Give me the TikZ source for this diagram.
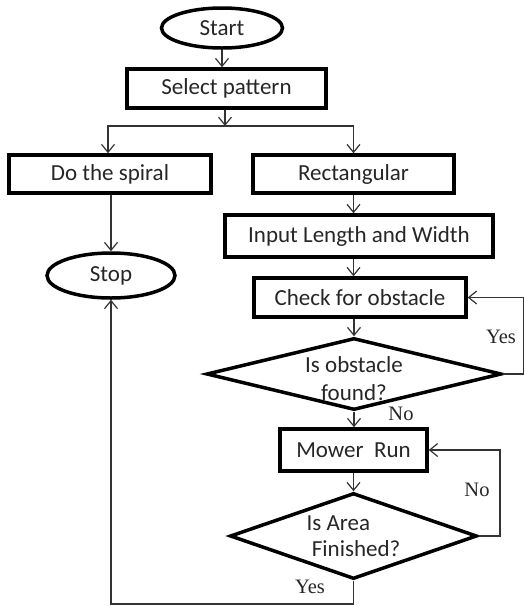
\documentclass[tikz,border=0pt]{standalone}
\usepackage{fontspec}
\setmainfont{Carlito}
\newfontfamily\lblfont{Liberation Serif}
\usetikzlibrary{shapes.geometric,arrows.meta}
\begin{document}
\begin{tikzpicture}[x=1pt,y=-1pt,
  boxtext/.style={font=\fontsize{23}{26}\selectfont, text=black!85},
  procbox/.style={draw, line width=3.5pt, rectangle, inner sep=0pt, boxtext},
  termbox/.style={draw, line width=3.5pt, ellipse, inner sep=0pt, boxtext},
  decbox/.style={draw, line width=3.5pt, diamond, inner sep=0pt, boxtext},
  conn/.style={line width=1.2pt, draw=black!80},
  arr/.style={conn, -{Straight Barb[length=8pt,width=13pt,line width=1.2pt]}},
  lbl/.style={font=\lblfont\fontsize{20.5}{24}\selectfont, text=black!85}
]
\useasboundingbox (0,0) rectangle (524,606);

\node[termbox, minimum width=121pt, minimum height=40pt] (start) at (222,28) {Start};
\node[procbox, minimum width=199pt, minimum height=39pt] (select) at (226.5,88.5) {Select pattern};
\node[procbox, minimum width=202pt, minimum height=38pt] (spiral) at (110,174) {Do the spiral};
\node[procbox, minimum width=201pt, minimum height=38pt] (rect) at (353.5,174) {Rectangular};
\node[procbox, minimum width=268pt, minimum height=42pt] (input) at (359,236) {Input Length and Width};
\node[procbox, minimum width=212pt, minimum height=39pt] (check) at (360,297.5) {Check for obstacle};
\node[decbox, minimum width=295pt, minimum height=72pt,
  label={[boxtext, align=center, yshift=-5pt]center:Is obstacle\\[2pt]found?}] (d1) at (354,374) {};
\node[procbox, minimum width=147pt, minimum height=42pt] (mower) at (353.5,450) {Mower\ \ Run};
\node[decbox, minimum width=247pt, minimum height=86pt,
  label={[boxtext, align=left]center:Is Area\\\ Finished?}] (d2) at (353.5,536) {};
\node[termbox, minimum width=128pt, minimum height=45pt] (stop) at (111,275.5) {Stop};

\coordinate (br) at (225,126);
\coordinate (yesR1) at (523.5,374);
\coordinate (yesR2) at (523.5,297.5);
\coordinate (noR1) at (500,536);
\coordinate (noR2) at (500,450);
\coordinate (yesB1) at (353.5,604);
\coordinate (yesB2) at (111,604);

\draw[arr] (start.south -| 222,0) -- (select.north -| 222,0);
\draw[arr] (select.south -| br) -- (br);
\draw[arr] (br) -| (spiral.north -| 108,0);
\draw[arr] (br) -| (rect.north);
\draw[arr] (spiral.south -| stop.north) -- (stop.north);
\draw[arr] (rect.south) -- (input.north -| rect.south);
\draw[arr] (input.south -| rect.south) -- (check.north -| rect.south);
\draw[arr] (check.south -| d1.north) -- (d1.north);
\draw[arr] (d1.south) -- (mower.north -| d1.south);
\draw[arr] (mower.south -| d2.north) -- (d2.north);
\draw[arr] (d1.east) -- (yesR1) -- (yesR2) -- (check.east);
\draw[arr] (d2.east) -- (noR1) -- (noR2) -- (mower.east);
\draw[arr] (d2.south) -- (yesB1) -- (yesB2) -- (stop.south);

\node[lbl] (lyes1) at (501,337) {Yes};
\node[lbl] (lno1) at (401,414) {No};
\node[lbl] (lno2) at (477,490) {No};
\node[lbl] (lyes2) at (310,587) {Yes};
\end{tikzpicture}
\end{document}
